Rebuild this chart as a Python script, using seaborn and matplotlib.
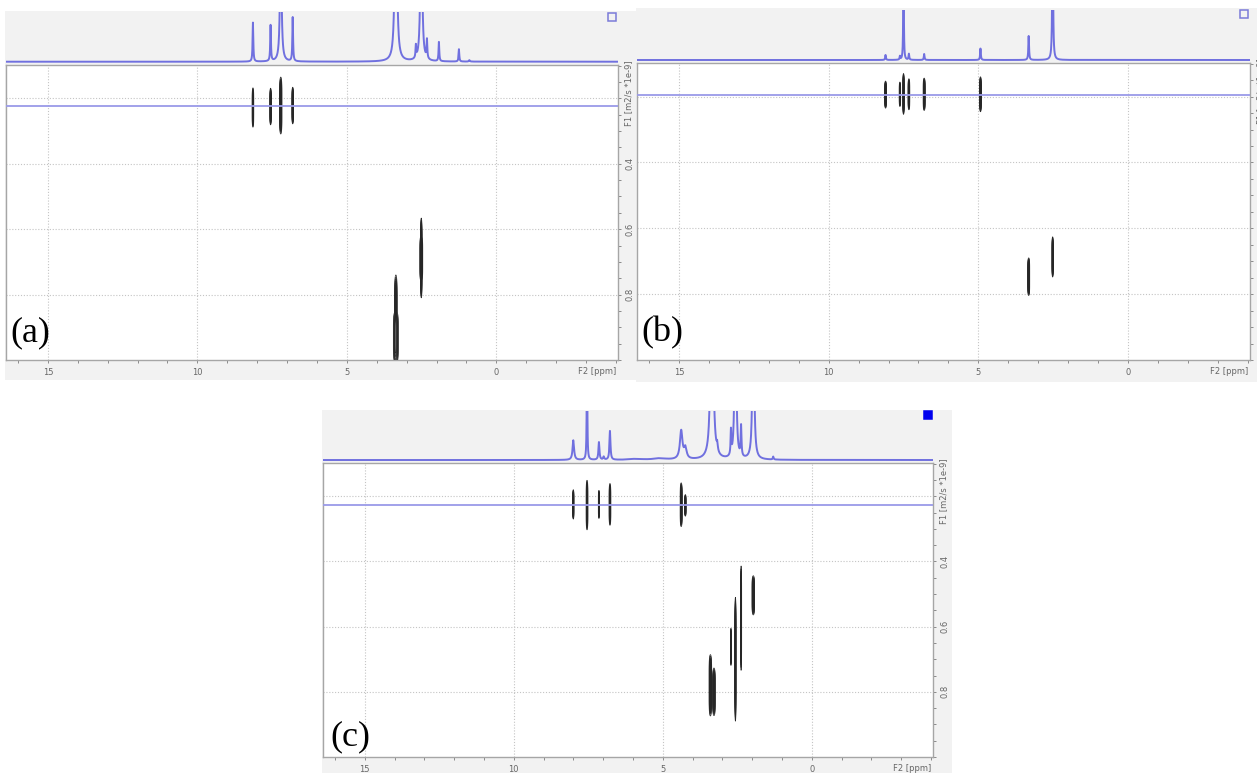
import numpy as np
import pandas as pd
import matplotlib
matplotlib.use("Agg")
import matplotlib.pyplot as plt
import seaborn as sns
from matplotlib.patches import Rectangle
from matplotlib.ticker import MultipleLocator, FixedLocator

# ---------------- data ----------------
# 1D projection spectra (peak position ppm, relative height, half width ppm)
spec_a_ppm = [8.14, 7.55, 7.21, 6.81, 3.36, 2.69, 2.51, 2.32, 1.92, 1.25, 0.90]
spec_a_height = [0.79, 0.73, 3.0, 0.89, 6.0, 0.25, 4.0, 0.38, 0.39, 0.25, 0.03]
spec_a_hwhm = [0.014, 0.014, 0.027, 0.014, 0.03, 0.014, 0.029, 0.014, 0.014, 0.014, 0.02]

spec_b_ppm = [8.10, 7.62, 7.50, 7.32, 6.81, 4.93, 3.32, 2.52]
spec_b_height = [0.10, 0.07, 3.0, 0.12, 0.12, 0.23, 0.48, 4.0]
spec_b_hwhm = [0.014, 0.012, 0.009, 0.014, 0.014, 0.014, 0.014, 0.013]

spec_c_ppm = [8.00, 7.54, 7.14, 6.98, 6.77, 5.90, 5.10, 4.38, 4.24, 3.35, 3.17, 2.71, 2.56, 2.37, 1.96, 1.29]
spec_c_height = [0.40, 3.0, 0.36, 0.06, 0.59, 0.02, 0.03, 0.58, 0.22, 8.0, 0.15, 0.50, 5.0, 0.62, 5.0, 0.06]
spec_c_hwhm = [0.03, 0.01, 0.02, 0.02, 0.02, 0.25, 0.25, 0.05, 0.05, 0.032, 0.02, 0.014, 0.025, 0.016, 0.025, 0.016]

# DOSY cross peaks (F2 ppm, diffusion coefficient D centre, half length in D, half width in ppm)
cross_a_ppm = [8.14, 7.55, 7.21, 6.81, 3.36, 3.36, 2.51, 2.51]
cross_a_D = [0.228, 0.225, 0.222, 0.222, 0.87, 0.93, 0.688, 0.69]
cross_a_dlen = [0.060, 0.056, 0.087, 0.056, 0.13, 0.08, 0.122, 0.07]
cross_a_pw = [0.028, 0.026, 0.04, 0.028, 0.045, 0.085, 0.028, 0.05]

cross_b_ppm = [8.10, 7.62, 7.50, 7.32, 6.81, 4.93, 3.32, 2.52]
cross_b_D = [0.194, 0.193, 0.192, 0.193, 0.193, 0.193, 0.747, 0.687]
cross_b_dlen = [0.041, 0.037, 0.062, 0.047, 0.049, 0.053, 0.057, 0.061]
cross_b_pw = [0.03, 0.025, 0.025, 0.03, 0.035, 0.03, 0.035, 0.025]

cross_c_ppm = [8.00, 7.54, 7.14, 6.77, 4.38, 4.24, 3.40, 3.28, 2.71, 2.56, 2.37, 1.96]
cross_c_D = [0.225, 0.227, 0.225, 0.225, 0.226, 0.228, 0.78, 0.80, 0.662, 0.70, 0.574, 0.504]
cross_c_dlen = [0.045, 0.076, 0.043, 0.064, 0.067, 0.033, 0.094, 0.073, 0.057, 0.19, 0.16, 0.06]
cross_c_pw = [0.022, 0.03, 0.022, 0.03, 0.035, 0.025, 0.045, 0.045, 0.018, 0.022, 0.02, 0.045]

# horizontal cursor line (D value)
cursor_D = {"a": 0.224, "b": 0.194, "c": 0.228}

x_major = [15, 10, 5, 0]
x_major_labels = ["15", "10", "5", "0"]
y_major = [0.2, 0.4, 0.6, 0.8]
y_major_labels = ["", "0.4", "0.6", "0.8"]
x_axis_label = "F2 [ppm]"
y_axis_label = "F1 [m2/s *1e-9]"
panel_labels = ["(a)", "(b)", "(c)"]

XLIM = (16.4, -4.07)
YLIM = (1.0, 0.098)

# ---------------- layout (pixels, origin top-left) ----------------
W, H = 1257, 773
layout = {
    "a": dict(bg=(5, 11, 636, 380), box=(6, 65, 618, 360), strip=(6, 12.3, 618, 62.7),
              marker=(608, 13, False), label=(10, 341)),
    "b": dict(bg=(636, 8, 1257, 382), box=(637, 63, 1250, 360), strip=(637, 10, 1250, 61),
              marker=(1240, 10, False), label=(641, 341)),
    "c": dict(bg=(322, 410, 952, 773), box=(323, 463, 933, 757), strip=(323, 411, 933, 461),
              marker=(924, 411, True), label=(330, 745)),
}

sns.set_theme(style="white")
plt.rcParams["font.family"] = ["DejaVu Sans"]

fig = plt.figure(figsize=(W / 100, H / 100), dpi=100)
fig.patch.set_facecolor("white")


def rect(x0, y0, x1, y1):
    return [x0 / W, 1 - y1 / H, (x1 - x0) / W, (y1 - y0) / H]


SPEC_COLOR = "#7070df"
CURSOR_COLOR = "#9a9ae8"
TICK_COLOR = "#666666"

x_spec = np.linspace(XLIM[1], XLIM[0], 9000)
gx = np.linspace(0.0, 9.5, 3200)
gy = np.linspace(0.05, 1.15, 600)
GX, GY = np.meshgrid(gx, gy)
LEVELS = [0.02, 0.06, 0.12, 0.2, 0.3, 0.45, 0.6, 0.8]
LOW = LEVELS[0]

datasets = {
    "a": (spec_a_ppm, spec_a_height, spec_a_hwhm, cross_a_ppm, cross_a_D, cross_a_dlen, cross_a_pw),
    "b": (spec_b_ppm, spec_b_height, spec_b_hwhm, cross_b_ppm, cross_b_D, cross_b_dlen, cross_b_pw),
    "c": (spec_c_ppm, spec_c_height, spec_c_hwhm, cross_c_ppm, cross_c_D, cross_c_dlen, cross_c_pw),
}

for key, plabel in zip(["a", "b", "c"], panel_labels):
    L = layout[key]
    sp, sh, sw, cp, cd, cl, cw = datasets[key]

    # grey panel background
    bx0, by0, bx1, by1 = L["bg"]
    fig.add_artist(Rectangle((bx0 / W, 1 - by1 / H), (bx1 - bx0) / W, (by1 - by0) / H,
                             transform=fig.transFigure, facecolor="#f2f2f2",
                             edgecolor="none", zorder=0))

    # ---- main DOSY box ----
    ax = fig.add_axes(rect(*L["box"]))
    ax.set_facecolor("white")
    ax.set_xlim(*XLIM)
    ax.set_ylim(*YLIM)

    # bar-like cross peaks: gaussian across F2, flat-topped along F1
    Z = np.zeros_like(GX)
    for p, d, dl, pw in zip(cp, cd, cl, cw):
        sx = pw / np.sqrt(2 * np.log(1 / LOW))
        sy = dl / np.log(1 / LOW) ** (1 / 6)
        Z = np.maximum(Z, np.exp(-((GX - p) ** 2 / (2 * sx ** 2)) - np.abs((GY - d) / sy) ** 6))
    ax.contour(GX, GY, Z, levels=LEVELS, colors="#262626", linewidths=0.5, zorder=3)

    ax.axhline(cursor_D[key], color=CURSOR_COLOR, lw=1.3, zorder=4)

    ax.xaxis.set_major_locator(FixedLocator(x_major))
    ax.set_xticklabels(x_major_labels)
    ax.xaxis.set_minor_locator(MultipleLocator(1))
    ax.yaxis.tick_right()
    ax.yaxis.set_major_locator(FixedLocator(y_major))
    ax.set_yticklabels(y_major_labels)
    ax.yaxis.set_minor_locator(MultipleLocator(0.05))
    ax.tick_params(axis="both", which="both", direction="out", length=2.5, width=0.7,
                   color="#8a8a8a", labelsize=6, labelcolor=TICK_COLOR, pad=3)
    ax.tick_params(axis="x", which="both", bottom=True, top=False)
    ax.tick_params(axis="y", which="both", right=True, left=False, labelrotation=90)
    for t in ax.get_yticklabels():
        t.set_va("center")
    ax.grid(True, which="major", linestyle=(0, (1, 1.6)), color="#c4c4c4", lw=0.8)
    for s in ax.spines.values():
        s.set_color("#a6a6a6")
        s.set_linewidth(1.0)
    ax.set_xlabel("")
    ax.set_ylabel("")

    ax.annotate(x_axis_label, xy=(-3.36, 0), xycoords=("data", "axes fraction"),
                xytext=(0, -5.2), textcoords="offset points", ha="center", va="top",
                fontsize=6, color=TICK_COLOR)
    ax.annotate(y_axis_label, xy=(1, 0.185), xycoords=("axes fraction", "data"),
                xytext=(4.3, 0), textcoords="offset points", ha="left", va="center",
                rotation=90, fontsize=6, color=TICK_COLOR, annotation_clip=False)

    # ---- 1D projection strip ----
    sax = fig.add_axes(rect(*L["strip"]))
    sax.patch.set_alpha(0)
    y_spec = np.zeros_like(x_spec)
    for p, h, w in zip(sp, sh, sw):
        y_spec += h / (1 + ((x_spec - p) / w) ** 2)
    df = pd.DataFrame({"ppm": x_spec, "intensity": y_spec})
    sns.lineplot(data=df, x="ppm", y="intensity", ax=sax, color=SPEC_COLOR, lw=1.4,
                 estimator=None, sort=False)
    sax.set_xlim(*XLIM)
    sax.set_ylim(-0.02, 1.0)
    sax.axis("off")

    # corner marker
    mx, my, filled = L["marker"]
    fig.add_artist(Rectangle((mx / W, 1 - (my + 8) / H), 8 / W, 8 / H,
                             transform=fig.transFigure,
                             facecolor="#0000ee" if filled else "none",
                             edgecolor="#0000ee" if filled else "#7b7bd9",
                             lw=1.1, zorder=5))

    # panel label
    lx, ly = L["label"]
    fig.text(lx / W, 1 - ly / H, plabel, fontsize=26, family=["Liberation Serif", "DejaVu Serif"],
             ha="left", va="baseline", color="black", zorder=6)

fig.savefig("out.png", dpi=100, facecolor="white")
